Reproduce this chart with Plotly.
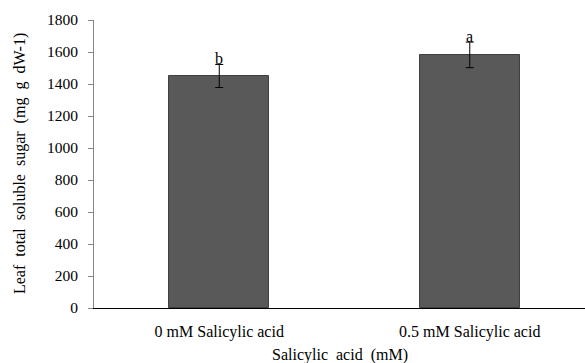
import plotly.graph_objects as go

categories = ["0 mM Salicylic acid", "0.5 mM Salicylic acid"]
values = [1450, 1582]
errors = [72, 80]
letters = ["b", "a"]

font = "Times New Roman"

fig = go.Figure()
fig.add_trace(go.Bar(
    x=[0, 1], y=values, width=0.40,
    marker=dict(color="#595959", line=dict(color="#3f3f3f", width=1)),
    error_y=dict(type="data", array=errors, visible=True, color="#000000", thickness=1, width=4),
    showlegend=False,
))
for i, (v, e, l) in enumerate(zip(values, errors, letters)):
    fig.add_annotation(x=i, y=v + e, text=l, showarrow=False, yanchor="bottom", yshift=-5,
                       font=dict(family=font, size=16, color="#000000"))

fig.add_annotation(xref="paper", yref="paper", x=0.5, y=0, yshift=-47, text="Salicylic  acid  (mM)",
                   showarrow=False, yanchor="middle", font=dict(family=font, size=16, color="#000000"))
fig.add_annotation(xref="paper", yref="paper", x=0, xshift=-74, y=0.5, textangle=-90,
                   text="Leaf  total  soluble  sugar  (mg  g  dW-1)",
                   showarrow=False, xanchor="center", font=dict(family=font, size=16, color="#000000"))

fig.update_layout(
    width=585, height=363,
    margin=dict(l=94, r=0, t=20, b=55),
    plot_bgcolor="white", paper_bgcolor="white",
    font=dict(family=font, size=16, color="#000000"),
    bargap=0,
)
fig.update_xaxes(
    range=[-0.5, 1.46], tickmode="array", tickvals=[0, 1], ticktext=categories,
    showline=True, linecolor="#000000", linewidth=1, ticks="", showgrid=False, zeroline=False,
    automargin=False, ticklabelstandoff=9, tickfont=dict(family=font, size=16, color="#000000"),
)
fig.update_yaxes(
    range=[0, 1800], tickvals=list(range(0, 1801, 200)),
    showline=True, linecolor="#868686", linewidth=1, ticks="outside", ticklen=5, tickcolor="#868686",
    showgrid=False, zeroline=False, automargin=False, ticklabelstandoff=7,
    tickfont=dict(family=font, size=15.5, color="#000000"),
)
fig.write_html("out.html", config={"displayModeBar": False},
               post_script="document.body.style.margin='0';document.body.style.overflow='hidden';")
